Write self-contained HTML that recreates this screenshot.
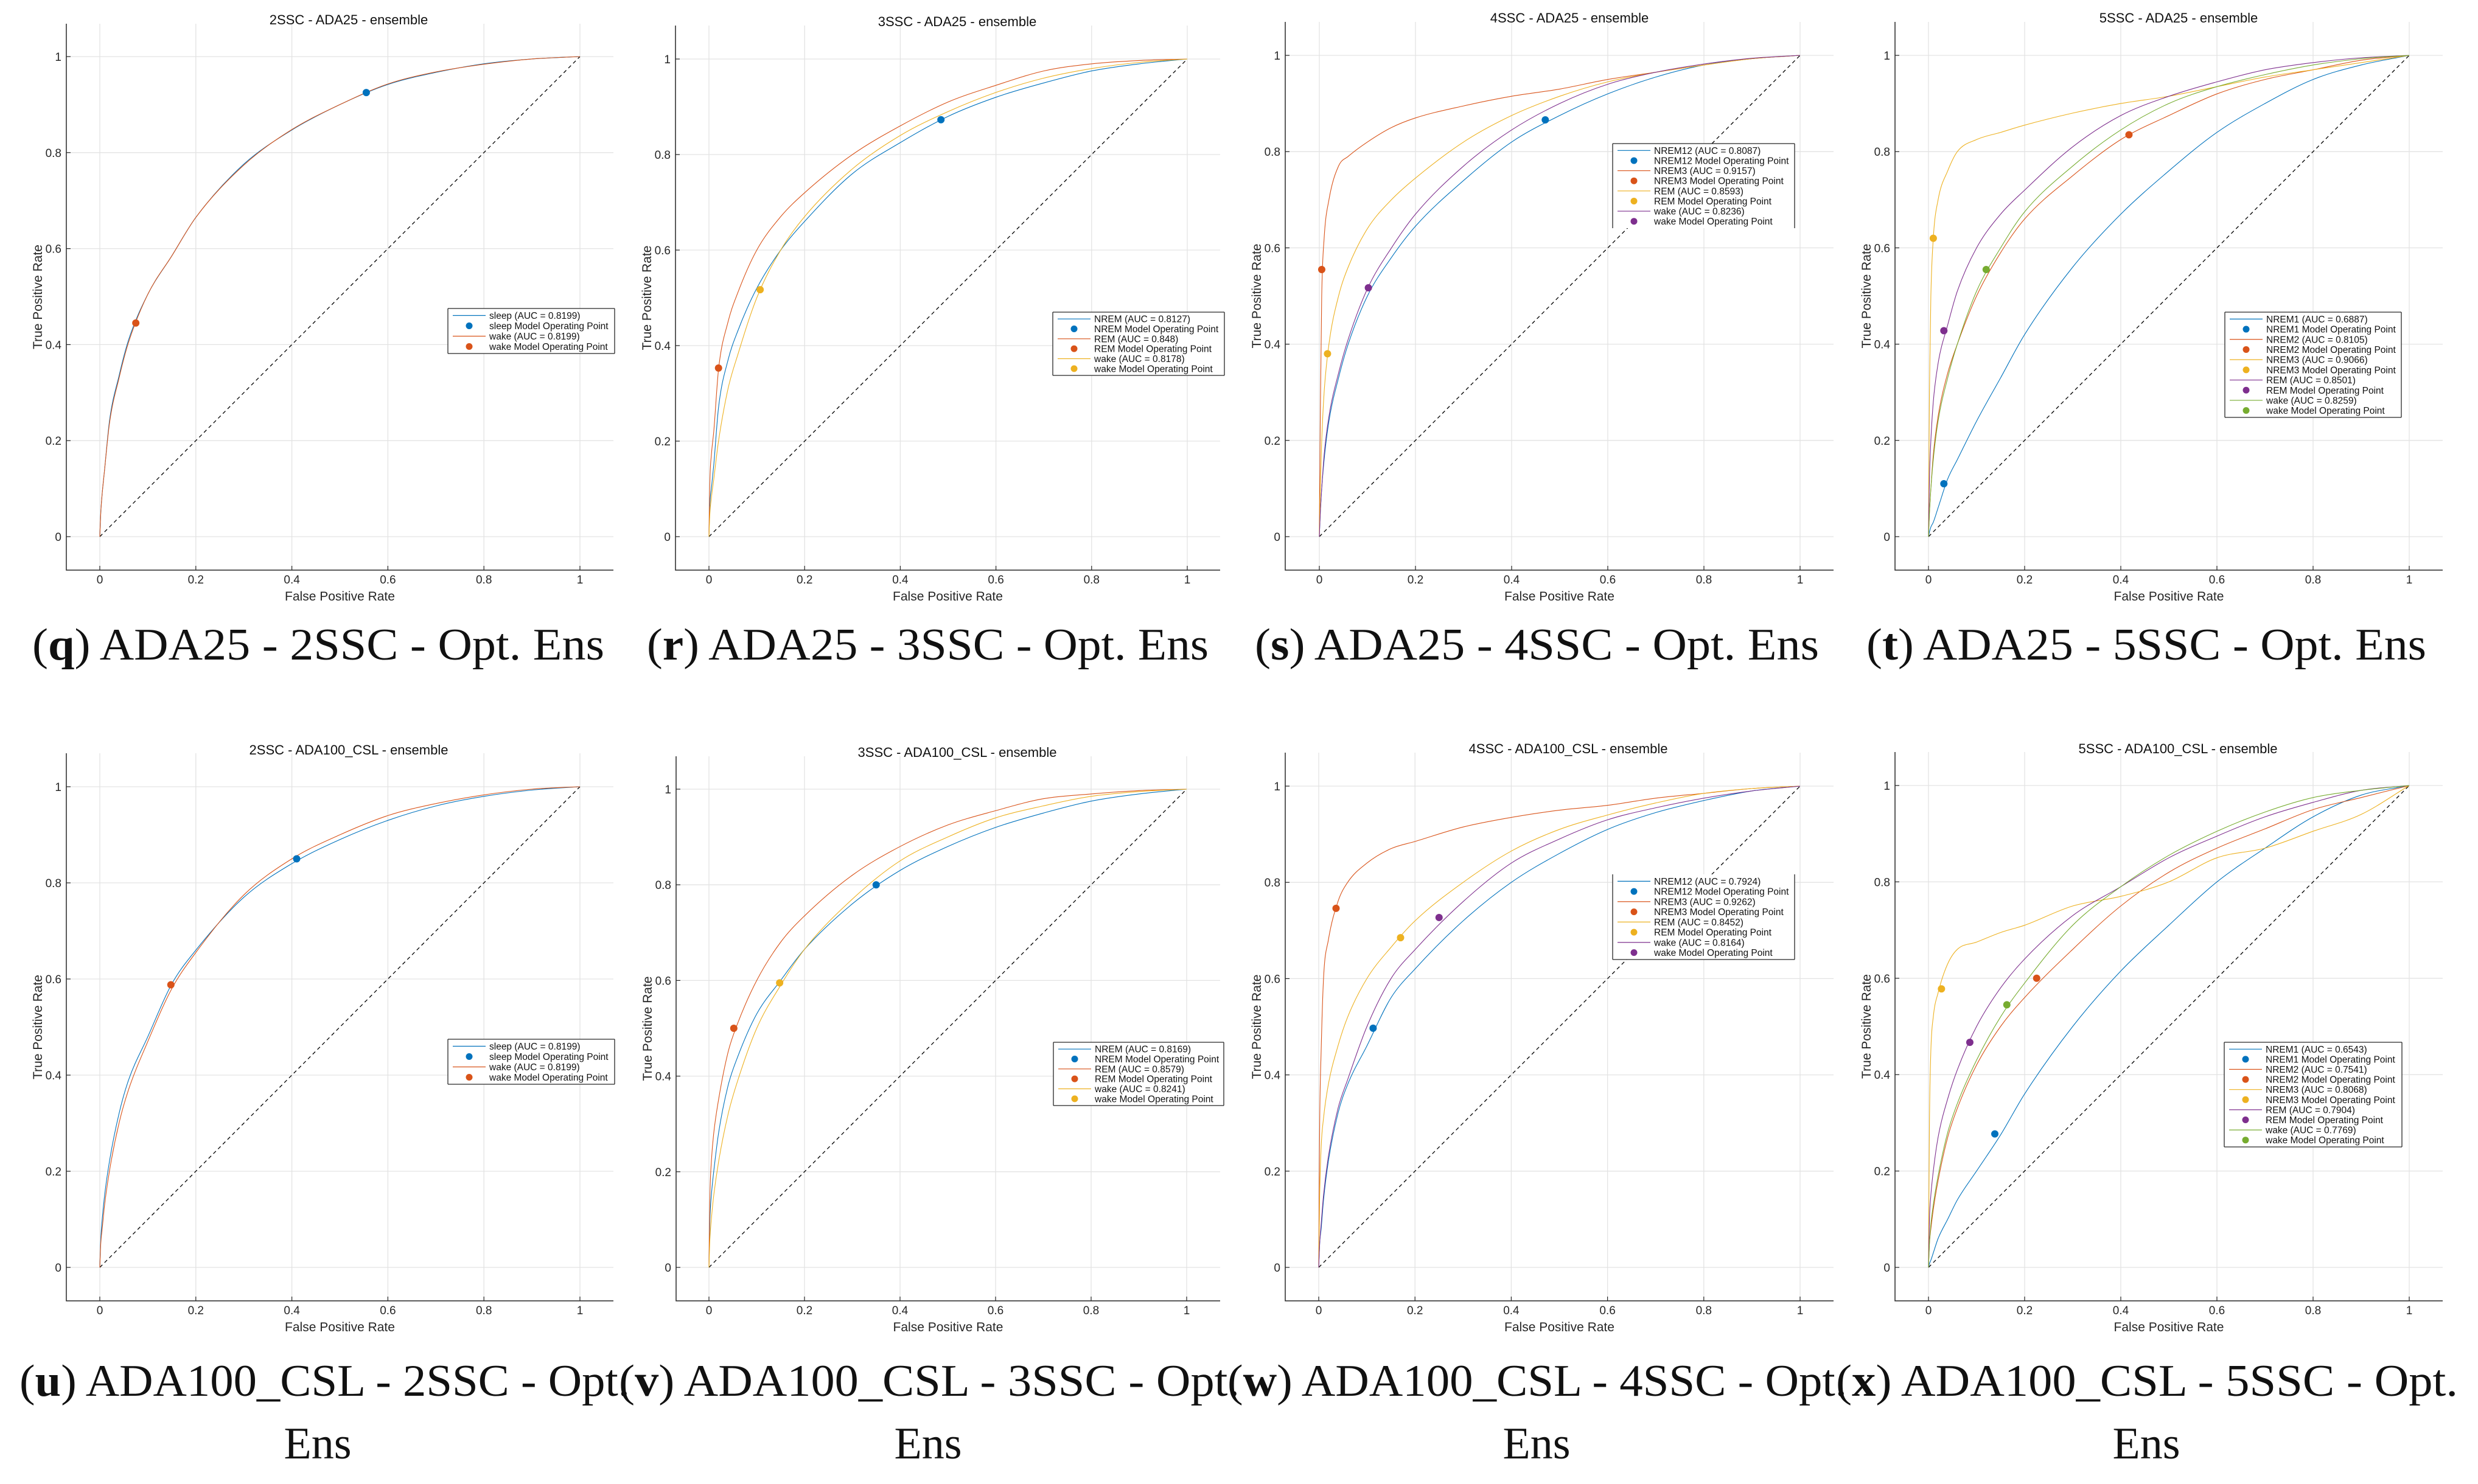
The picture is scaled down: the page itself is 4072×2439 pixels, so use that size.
<!DOCTYPE html>
<html><head><meta charset="utf-8"><title>ROC curves</title>
<style>
html,body{margin:0;padding:0;background:#fff;}
svg{display:block;}
text{font-family:"Liberation Sans",sans-serif;}
.cap{font-family:"Liberation Serif",serif;font-size:74px;fill:#111;}
</style></head>
<body>
<svg id="fig" xmlns="http://www.w3.org/2000/svg" width="4072" height="2439" viewBox="0 0 4072 2439">
<rect x="0" y="0" width="4072" height="2439" fill="#fff"/>
<text class="cap" x="53" y="1084" textLength="940" lengthAdjust="spacingAndGlyphs">(<tspan font-weight="bold">q</tspan>) ADA25 - 2SSC - Opt. Ens</text>
<text class="cap" x="1063" y="1084" textLength="923" lengthAdjust="spacingAndGlyphs">(<tspan font-weight="bold">r</tspan>) ADA25 - 3SSC - Opt. Ens</text>
<text class="cap" x="2062" y="1084" textLength="927" lengthAdjust="spacingAndGlyphs">(<tspan font-weight="bold">s</tspan>) ADA25 - 4SSC - Opt. Ens</text>
<text class="cap" x="3067" y="1084" textLength="920" lengthAdjust="spacingAndGlyphs">(<tspan font-weight="bold">t</tspan>) ADA25 - 5SSC - Opt. Ens</text>
<text class="cap" x="32" y="2294" textLength="1003" lengthAdjust="spacingAndGlyphs">(<tspan font-weight="bold">u</tspan>) ADA100_CSL - 2SSC - Opt.</text>
<text class="cap" x="1017" y="2294" textLength="1020" lengthAdjust="spacingAndGlyphs">(<tspan font-weight="bold">v</tspan>) ADA100_CSL - 3SSC - Opt.</text>
<text class="cap" x="2017" y="2294" textLength="1018" lengthAdjust="spacingAndGlyphs">(<tspan font-weight="bold">w</tspan>) ADA100_CSL - 4SSC - Opt.</text>
<text class="cap" x="3017" y="2294" textLength="1022" lengthAdjust="spacingAndGlyphs">(<tspan font-weight="bold">x</tspan>) ADA100_CSL - 5SSC - Opt.</text>
<text class="cap" x="522" y="2397" text-anchor="middle">Ens</text>
<text class="cap" x="1525" y="2397" text-anchor="middle">Ens</text>
<text class="cap" x="2525" y="2397" text-anchor="middle">Ens</text>
<text class="cap" x="3527" y="2397" text-anchor="middle">Ens</text>
</svg>
<script>
// ---- shared data ----
const fprGrid = [0,0.002,0.005,0.01,0.02,0.04,0.06,0.1,0.15,0.2,0.3,0.4,0.5,0.6,0.7,0.8,0.9,1];
const tickValues = [0,0.2,0.4,0.6,0.8,1];
const tickLabels = ["0","0.2","0.4","0.6","0.8","1"];
const colors = {blue:"#0072BD",orange:"#D95319",yellow:"#EDB120",purple:"#7E2F8E",green:"#77AC30"};

// q: 2SSC ADA25
const q_sleep = [0,0.05,0.09,0.14,0.24,0.335,0.41,0.505,0.585,0.665,0.776,0.847,0.9,0.942,0.967,0.985,0.995,1];
const q_wake  = [0,0.05,0.09,0.14,0.235,0.33,0.405,0.505,0.585,0.665,0.774,0.848,0.9,0.943,0.968,0.984,0.995,1];
const q_sleep_op = [0.555,0.925];
const q_wake_op = [0.075,0.445];
// r: 3SSC ADA25
const r_nrem = [0,0.07,0.1,0.15,0.27,0.37,0.43,0.52,0.6,0.66,0.76,0.825,0.88,0.92,0.95,0.975,0.99,1];
const r_rem  = [0,0.12,0.17,0.22,0.35,0.45,0.51,0.6,0.67,0.72,0.8,0.86,0.91,0.945,0.975,0.99,0.997,1];
const r_wake = [0,0.05,0.08,0.12,0.2,0.31,0.38,0.5,0.6,0.67,0.77,0.84,0.89,0.93,0.96,0.98,0.993,1];
const r_nrem_op = [0.485,0.873];
const r_rem_op = [0.02,0.353];
const r_wake_op = [0.107,0.517];
// s: 4SSC ADA25
const s_nrem12 = [0,0.05,0.1,0.16,0.24,0.33,0.4,0.5,0.58,0.645,0.74,0.82,0.875,0.92,0.955,0.98,0.993,1];
const s_nrem3  = [0,0.25,0.5,0.62,0.7,0.77,0.79,0.82,0.85,0.87,0.895,0.915,0.93,0.95,0.965,0.98,0.993,1];
const s_rem    = [0,0.1,0.2,0.3,0.4,0.5,0.56,0.64,0.7,0.745,0.82,0.875,0.915,0.945,0.965,0.98,0.993,1];
const s_wake   = [0,0.05,0.1,0.17,0.25,0.34,0.41,0.515,0.6,0.67,0.77,0.845,0.9,0.94,0.965,0.982,0.994,1];
const s_nrem12_op = [0.47,0.866];
const s_nrem3_op = [0.005,0.555];
const s_rem_op = [0.017,0.38];
const s_wake_op = [0.102,0.517];
// t: 5SSC ADA25
const t_nrem1 = [0,0.01,0.02,0.03,0.06,0.12,0.16,0.24,0.33,0.42,0.56,0.67,0.76,0.84,0.9,0.95,0.98,1];
const t_nrem2 = [0,0.05,0.1,0.17,0.25,0.34,0.4,0.5,0.59,0.66,0.75,0.825,0.875,0.92,0.95,0.97,0.99,1];
const t_nrem3 = [0,0.3,0.5,0.62,0.7,0.76,0.8,0.825,0.84,0.855,0.88,0.9,0.915,0.935,0.955,0.97,0.985,1];
const t_rem   = [0,0.12,0.2,0.28,0.36,0.44,0.51,0.6,0.67,0.72,0.81,0.875,0.915,0.945,0.97,0.985,0.995,1];
const t_wake  = [0,0.05,0.1,0.16,0.24,0.33,0.4,0.51,0.6,0.675,0.77,0.845,0.9,0.935,0.96,0.98,0.993,1];
const t_nrem1_op = [0.032,0.11];
const t_nrem2_op = [0.417,0.835];
const t_nrem3_op = [0.01,0.62];
const t_rem_op = [0.032,0.428];
const t_wake_op = [0.12,0.555];
// u: 2SSC ADA100_CSL
const u_sleep = [0,0.06,0.1,0.15,0.22,0.32,0.39,0.48,0.59,0.66,0.77,0.84,0.89,0.93,0.96,0.98,0.993,1];
const u_wake  = [0,0.05,0.08,0.13,0.2,0.3,0.37,0.47,0.58,0.655,0.775,0.85,0.9,0.94,0.965,0.983,0.995,1];
const u_sleep_op = [0.41,0.85];
const u_wake_op = [0.148,0.588];
// v: 3SSC ADA100_CSL
const v_nrem = [0,0.1,0.15,0.2,0.28,0.38,0.44,0.53,0.6,0.665,0.76,0.83,0.88,0.92,0.95,0.975,0.99,1];
const v_rem  = [0,0.15,0.22,0.28,0.35,0.45,0.51,0.6,0.68,0.735,0.82,0.88,0.925,0.955,0.98,0.99,0.997,1];
const v_wake = [0,0.06,0.1,0.15,0.22,0.32,0.39,0.5,0.59,0.665,0.77,0.85,0.9,0.94,0.965,0.985,0.995,1];
const v_nrem_op = [0.35,0.8];
const v_rem_op = [0.052,0.5];
const v_wake_op = [0.148,0.595];
// w: 4SSC ADA100_CSL
const w_nrem12 = [0,0.05,0.08,0.14,0.22,0.32,0.38,0.46,0.56,0.62,0.72,0.8,0.86,0.91,0.945,0.97,0.99,1];
const w_nrem3  = [0,0.3,0.45,0.6,0.68,0.76,0.8,0.84,0.87,0.885,0.915,0.935,0.95,0.96,0.975,0.985,0.995,1];
const w_rem    = [0,0.15,0.25,0.31,0.38,0.46,0.52,0.6,0.665,0.72,0.8,0.865,0.91,0.94,0.965,0.985,0.995,1];
const w_wake   = [0,0.05,0.09,0.15,0.23,0.33,0.39,0.5,0.6,0.66,0.76,0.84,0.89,0.93,0.955,0.975,0.99,1];
const w_nrem12_op = [0.113,0.497];
const w_nrem3_op = [0.036,0.746];
const w_rem_op = [0.17,0.685];
const w_wake_op = [0.25,0.727];
// x: 5SSC ADA100_CSL
const x_nrem1 = [0,0.008,0.015,0.03,0.06,0.1,0.14,0.2,0.275,0.36,0.5,0.615,0.71,0.8,0.87,0.935,0.98,1];
const x_nrem2 = [0,0.05,0.08,0.12,0.18,0.27,0.33,0.42,0.5,0.56,0.66,0.75,0.82,0.87,0.91,0.95,0.975,1];
const x_nrem3 = [0,0.3,0.45,0.52,0.57,0.63,0.66,0.675,0.695,0.71,0.75,0.77,0.8,0.85,0.87,0.905,0.94,1];
const x_rem   = [0,0.1,0.15,0.2,0.27,0.35,0.41,0.5,0.58,0.64,0.73,0.79,0.85,0.895,0.935,0.965,0.99,1];
const x_wake  = [0,0.05,0.09,0.13,0.19,0.28,0.34,0.43,0.52,0.59,0.71,0.79,0.855,0.905,0.945,0.975,0.99,1];
const x_nrem1_op = [0.138,0.277];
const x_nrem2_op = [0.225,0.6];
const x_nrem3_op = [0.027,0.578];
const x_rem_op = [0.086,0.467];
const x_wake_op = [0.163,0.545];

const panels = [
 {id:"q",title:"2SSC - ADA25 - ensemble",L:109,R:1008,T:39,B:937,X0:164,X1:953,Y0:882,Y1:93,tx:573,ty:32,
  leg:[736,507,1010,581],legTop:true,legBottom:true,
  series:[["sleep (AUC = 0.8199)","sleep Model Operating Point",q_sleep,q_sleep_op,"blue"],["wake (AUC = 0.8199)","wake Model Operating Point",q_wake,q_wake_op,"orange"]]},
 {id:"r",title:"3SSC - ADA25 - ensemble",L:1110,R:2005,T:42,B:937,X0:1165,X1:1951,Y0:882,Y1:97,tx:1573,ty:35,
  leg:[1730,513,2012,617],legTop:true,legBottom:true,
  series:[["NREM (AUC = 0.8127)","NREM Model Operating Point",r_nrem,r_nrem_op,"blue"],["REM (AUC = 0.848)","REM Model Operating Point",r_rem,r_rem_op,"orange"],["wake (AUC = 0.8178)","wake Model Operating Point",r_wake,r_wake_op,"yellow"]]},
 {id:"s",title:"4SSC - ADA25 - ensemble",L:2112,R:3013,T:36,B:937,X0:2168,X1:2958,Y0:882,Y1:91,tx:2579,ty:29,
  leg:[2650,236,2949,375],legTop:true,legBottom:false,
  series:[["NREM12 (AUC = 0.8087)","NREM12 Model Operating Point",s_nrem12,s_nrem12_op,"blue"],["NREM3 (AUC = 0.9157)","NREM3 Model Operating Point",s_nrem3,s_nrem3_op,"orange"],["REM (AUC = 0.8593)","REM Model Operating Point",s_rem,s_rem_op,"yellow"],["wake (AUC = 0.8236)","wake Model Operating Point",s_wake,s_wake_op,"purple"]]},
 {id:"t",title:"5SSC - ADA25 - ensemble",L:3114,R:4014,T:36,B:937,X0:3169,X1:3959,Y0:882,Y1:91,tx:3580,ty:29,
  leg:[3656,513,3946,686],legTop:true,legBottom:true,
  series:[["NREM1 (AUC = 0.6887)","NREM1 Model Operating Point",t_nrem1,t_nrem1_op,"blue"],["NREM2 (AUC = 0.8105)","NREM2 Model Operating Point",t_nrem2,t_nrem2_op,"orange"],["NREM3 (AUC = 0.9066)","NREM3 Model Operating Point",t_nrem3,t_nrem3_op,"yellow"],["REM (AUC = 0.8501)","REM Model Operating Point",t_rem,t_rem_op,"purple"],["wake (AUC = 0.8259)","wake Model Operating Point",t_wake,t_wake_op,"green"]]},
 {id:"u",title:"2SSC - ADA100_CSL - ensemble",L:109,R:1008,T:1238,B:2138,X0:164,X1:953,Y0:2083,Y1:1293,tx:573,ty:1232,
  leg:[736,1708,1010,1782],legTop:true,legBottom:true,
  series:[["sleep (AUC = 0.8199)","sleep Model Operating Point",u_sleep,u_sleep_op,"blue"],["wake (AUC = 0.8199)","wake Model Operating Point",u_wake,u_wake_op,"orange"]]},
 {id:"v",title:"3SSC - ADA100_CSL - ensemble",L:1111,R:2005,T:1243,B:2138,X0:1165,X1:1950,Y0:2083,Y1:1297,tx:1573,ty:1236,
  leg:[1731,1713,2011,1817],legTop:true,legBottom:true,
  series:[["NREM (AUC = 0.8169)","NREM Model Operating Point",v_nrem,v_nrem_op,"blue"],["REM (AUC = 0.8579)","REM Model Operating Point",v_rem,v_rem_op,"orange"],["wake (AUC = 0.8241)","wake Model Operating Point",v_wake,v_wake_op,"yellow"]]},
 {id:"w",title:"4SSC - ADA100_CSL - ensemble",L:2112,R:3013,T:1237,B:2138,X0:2167,X1:2958,Y0:2083,Y1:1292,tx:2577,ty:1230,
  leg:[2650,1437,2949,1577],legTop:false,legBottom:true,
  series:[["NREM12 (AUC = 0.7924)","NREM12 Model Operating Point",w_nrem12,w_nrem12_op,"blue"],["NREM3 (AUC = 0.9262)","NREM3 Model Operating Point",w_nrem3,w_nrem3_op,"orange"],["REM (AUC = 0.8452)","REM Model Operating Point",w_rem,w_rem_op,"yellow"],["wake (AUC = 0.8164)","wake Model Operating Point",w_wake,w_wake_op,"purple"]]},
 {id:"x",title:"5SSC - ADA100_CSL - ensemble",L:3114,R:4014,T:1236,B:2138,X0:3169,X1:3959,Y0:2083,Y1:1291,tx:3579,ty:1230,
  leg:[3655,1713,3947,1885],legTop:true,legBottom:true,
  series:[["NREM1 (AUC = 0.6543)","NREM1 Model Operating Point",x_nrem1,x_nrem1_op,"blue"],["NREM2 (AUC = 0.7541)","NREM2 Model Operating Point",x_nrem2,x_nrem2_op,"orange"],["NREM3 (AUC = 0.8068)","NREM3 Model Operating Point",x_nrem3,x_nrem3_op,"yellow"],["REM (AUC = 0.7904)","REM Model Operating Point",x_rem,x_rem_op,"purple"],["wake (AUC = 0.7769)","wake Model Operating Point",x_wake,x_wake_op,"green"]]}
];

const NS = "http://www.w3.org/2000/svg";
const svg = document.getElementById("fig");
function mk(tag, attrs, parent){
  const e = document.createElementNS(NS, tag);
  for (const k in attrs) e.setAttribute(k, attrs[k]);
  (parent||svg).appendChild(e);
  return e;
}
function monotonePath(pts){
  const n = pts.length;
  if (n < 2) return "";
  const dx=[], dy=[], m=[];
  for (let i=0;i<n-1;i++){ dx.push(pts[i+1][0]-pts[i][0]); dy.push(pts[i+1][1]-pts[i][1]); m.push(dx[i]===0?0:dy[i]/dx[i]); }
  const t=[m[0]];
  for (let i=1;i<n-1;i++){ t.push(m[i-1]*m[i]<=0?0:(m[i-1]+m[i])/2); }
  t.push(m[n-2]);
  for (let i=0;i<n-1;i++){
    if (m[i]===0){ t[i]=0; t[i+1]=0; continue; }
    const a=t[i]/m[i], b=t[i+1]/m[i], s=a*a+b*b;
    if (s>9){ const k=3/Math.sqrt(s); t[i]=k*a*m[i]; t[i+1]=k*b*m[i]; }
  }
  let d = "M"+pts[0][0].toFixed(1)+","+pts[0][1].toFixed(1);
  for (let i=0;i<n-1;i++){
    const h=dx[i]/3;
    d += " C"+(pts[i][0]+h).toFixed(1)+","+(pts[i][1]+t[i]*h).toFixed(1)+" "+(pts[i+1][0]-h).toFixed(1)+","+(pts[i+1][1]-t[i+1]*h).toFixed(1)+" "+pts[i+1][0].toFixed(1)+","+pts[i+1][1].toFixed(1);
  }
  return d;
}

panels.forEach(p => {
  const g = mk("g", {});
  
  
  const xs = v => p.X0 + v*(p.X1-p.X0);
  const ys = v => p.Y0 - v*(p.Y0-p.Y1);
  tickValues.forEach((v,i) => {
    const gx = mk("line",{x1:xs(v),x2:xs(v),y1:p.T,y2:p.B,stroke:"#e3e3e3","stroke-width":1.3},g);
    
    
    const gy = mk("line",{x1:p.L,x2:p.R,y1:ys(v),y2:ys(v),stroke:"#e3e3e3","stroke-width":1.3},g);
    
    
    const tx = mk("text",{x:xs(v),y:p.B+22,"font-size":19,fill:"#262626","text-anchor":"middle"},g);
    tx.textContent = tickLabels[i];
    
    
    const ty = mk("text",{x:p.L-8,y:ys(v)+7,"font-size":19,fill:"#262626","text-anchor":"end"},g);
    ty.textContent = tickLabels[i];
    
    
    const tk1 = mk("line",{x1:xs(v),x2:xs(v),y1:p.B,y2:p.B-7,stroke:"#262626","stroke-width":1.2},g);
    
    
    const tk2 = mk("line",{x1:p.L,x2:p.L+7,y1:ys(v),y2:ys(v),stroke:"#262626","stroke-width":1.2},g);
    
    
  });
  const ax = mk("path",{d:`M${p.L},${p.T} L${p.L},${p.B} L${p.R},${p.B}`,fill:"none",stroke:"#262626","stroke-width":1.5},g);
  
  
  const tt = mk("text",{x:p.tx,y:p.ty+8,"font-size":22,fill:"#111","text-anchor":"middle"},g);
  tt.textContent = p.title;
  
  
  const xl = mk("text",{x:(p.L+p.R)/2,y:p.B+50,"font-size":21,fill:"#262626","text-anchor":"middle"},g);
  xl.textContent = "False Positive Rate";
  
  
  const yc = (p.T+p.B)/2;
  const yl = mk("text",{x:p.L-40,y:yc,"font-size":21,fill:"#262626","text-anchor":"middle",transform:`rotate(-90 ${p.L-40} ${yc})`},g);
  yl.textContent = "True Positive Rate";
  
  
  const dg = mk("line",{x1:xs(0),y1:ys(0),x2:xs(1),y2:ys(1),stroke:"#000","stroke-width":1.3,"stroke-dasharray":"6 5"},g);
  
  
  p.series.forEach(s => {
    const pts = fprGrid.map((f,i) => [xs(f), ys(s[2][i])]);
    const path = mk("path",{d:monotonePath(pts),fill:"none",stroke:colors[s[4]],"stroke-width":1.1},g);
    
    
  });
  p.series.forEach(s => {
    const c = mk("circle",{cx:xs(s[3][0]),cy:ys(s[3][1]),r:6,fill:colors[s[4]]},g);
    
    
  });
  const [lx1,ly1,lx2,ly2] = p.leg;
  const lg = mk("g",{},g);
  
  
  mk("rect",{x:lx1,y:ly1,width:lx2-lx1,height:ly2-ly1,fill:"#fff",stroke:"none"},lg);
  let bd = `M${lx1},${ly1} L${lx1},${ly2} M${lx2},${ly1} L${lx2},${ly2}`;
  if (p.legTop) bd += ` M${lx1},${ly1} L${lx2},${ly1}`;
  if (p.legBottom) bd += ` M${lx1},${ly2} L${lx2},${ly2}`;
  mk("path",{d:bd,stroke:"#262626","stroke-width":1.3,fill:"none"},lg);
  const n = p.series.length*2;
  const rh = (ly2-ly1-6)/n;
  p.series.forEach((s,k) => {
    const y1 = ly1+3+rh*(2*k+0.5), y2 = ly1+3+rh*(2*k+1.5);
    const ll = mk("line",{x1:lx1+8,x2:lx1+62,y1:y1,y2:y1,stroke:colors[s[4]],"stroke-width":1.2},lg);
    
    
    const lt = mk("text",{x:lx1+68,y:y1+5.5,"font-size":15.5,fill:"#111"},lg);
    lt.textContent = s[0];
    
    
    const lc = mk("circle",{cx:lx1+35,cy:y2,r:5.5,fill:colors[s[4]]},lg);
    
    
    const lt2 = mk("text",{x:lx1+68,y:y2+5.5,"font-size":15.5,fill:"#111"},lg);
    lt2.textContent = s[1];
    
    
  });
});
</script>
</body></html>
